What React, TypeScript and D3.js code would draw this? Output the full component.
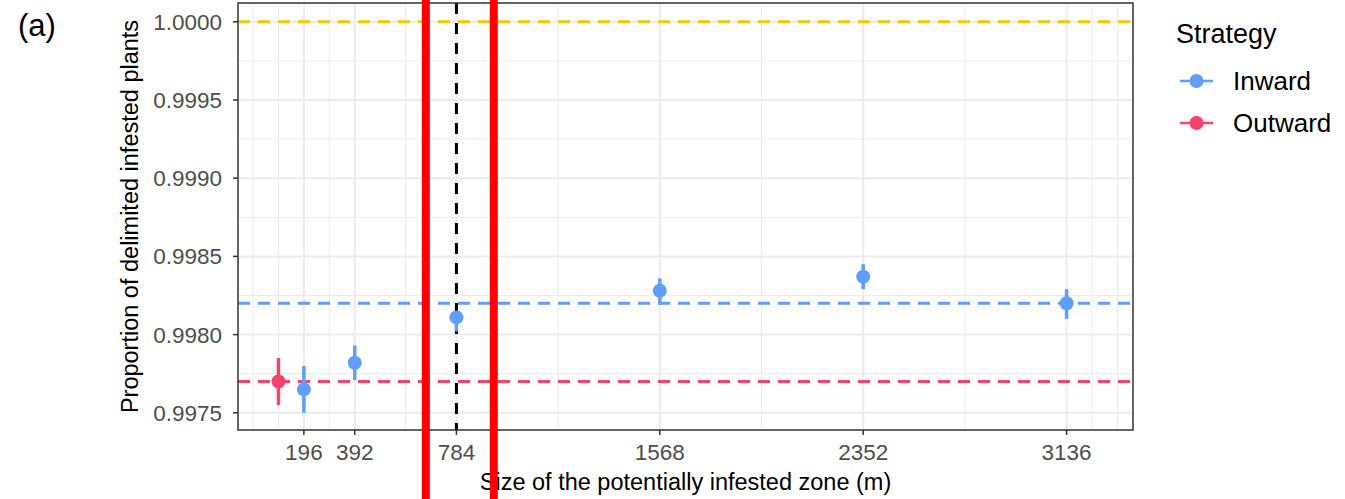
import * as d3 from "d3";

// data
const strategies = ["Inward", "Outward"];
const strategyColors = ["#619CFF", "#F5436E"];

const inwardSize = [196, 392, 784, 1568, 2352, 3136];
const inwardMean = [0.99765, 0.99782, 0.99811, 0.99828, 0.99837, 0.9982];
const inwardLow = [0.9975, 0.99771, 0.99802, 0.99819, 0.99829, 0.9981];
const inwardHigh = [0.9978, 0.99793, 0.99815, 0.99836, 0.99845, 0.99829];

const outwardSize = [98];
const outwardMean = [0.9977];
const outwardLow = [0.99755];
const outwardHigh = [0.99785];

const xTicks = [196, 392, 784, 1568, 2352, 3136];
const xMinor = [0, 98, 294, 588, 1176, 1960, 2744, 3234, 3332];
const yTicks = [0.9975, 0.998, 0.9985, 0.999, 0.9995, 1.0];
const yMinor = [0.99775, 0.99825, 0.99875, 0.99925, 0.99975];

const perfectLine = 1.0;
const meanLines = [0.9982, 0.9977]; // Inward, Outward
const chosenSize = 784;
const highlightSizes = [666, 928];

const W = 1345;
const H = 499;
const panel = { left: 238, right: 1133, top: 3, bottom: 430 };
const font = "'Liberation Sans', Arial, sans-serif";

export default function App() {
  const x = d3.scaleLinear().domain([-58, 3392]).range([panel.left, panel.right]);
  const y = d3.scaleLinear().domain([0.99739, 1.00012]).range([panel.bottom, panel.top]);

  const series = [
    { name: strategies[0], color: strategyColors[0], size: inwardSize, mean: inwardMean, lo: inwardLow, hi: inwardHigh },
    { name: strategies[1], color: strategyColors[1], size: outwardSize, mean: outwardMean, lo: outwardLow, hi: outwardHigh },
  ];

  const fmt = d3.format(".4f");

  return (
    <div style={{ position: "fixed", left: 0, top: 0 }}>
      <svg width={W} height={H} style={{ display: "block", background: "#fff" }} fontFamily={font}>
        <text x={18} y={36} fontSize={31} fill="#000">(a)</text>

        {/* grid */}
        <g>
          {xMinor.map((d) => (
            <line key={"xm" + d} x1={x(d)} x2={x(d)} y1={panel.top} y2={panel.bottom} stroke="#EBEBEB" strokeWidth={1} />
          ))}
          {yMinor.map((d) => (
            <line key={"ym" + d} y1={y(d)} y2={y(d)} x1={panel.left} x2={panel.right} stroke="#EBEBEB" strokeWidth={1} />
          ))}
          {xTicks.map((d) => (
            <line key={"xg" + d} x1={x(d)} x2={x(d)} y1={panel.top} y2={panel.bottom} stroke="#EBEBEB" strokeWidth={2} />
          ))}
          {yTicks.map((d) => (
            <line key={"yg" + d} y1={y(d)} y2={y(d)} x1={panel.left} x2={panel.right} stroke="#EBEBEB" strokeWidth={2} />
          ))}
        </g>

        {/* reference lines */}
        <line x1={panel.left} x2={panel.right} y1={y(perfectLine)} y2={y(perfectLine)} stroke="#F5C800" strokeWidth={3} strokeDasharray="12,8" />
        {meanLines.map((d, i) => (
          <line key={"ml" + i} x1={panel.left} x2={panel.right} y1={y(d)} y2={y(d)} stroke={strategyColors[i]} strokeWidth={3} strokeDasharray="12,8" />
        ))}
        <line x1={x(chosenSize)} x2={x(chosenSize)} y1={panel.top} y2={panel.bottom} stroke="#000" strokeWidth={3} strokeDasharray="11,9" />

        {/* points + error bars */}
        {series.map((s) => (
          <g key={s.name}>
            {s.size.map((d, i) => (
              <g key={d}>
                <line x1={x(d)} x2={x(d)} y1={y(s.lo[i])} y2={y(s.hi[i])} stroke={s.color} strokeWidth={3.5} />
                <circle cx={x(d)} cy={y(s.mean[i])} r={7} fill={s.color} />
              </g>
            ))}
          </g>
        ))}

        {/* panel border */}
        <rect x={panel.left} y={panel.top} width={panel.right - panel.left} height={panel.bottom - panel.top} fill="none" stroke="#333" strokeWidth={1.5} />

        {/* y axis */}
        <g>
          {yTicks.map((d) => (
            <g key={"yt" + d}>
              <line x1={panel.left - 5} x2={panel.left} y1={y(d)} y2={y(d)} stroke="#333" strokeWidth={1.5} />
              <text x={panel.left - 16} y={y(d)} dy="0.36em" textAnchor="end" fontSize={22.5} fill="#4D4D4D">{fmt(d)}</text>
            </g>
          ))}
        </g>
        {/* x axis */}
        <g>
          {xTicks.map((d) => (
            <g key={"xt" + d}>
              <line x1={x(d)} x2={x(d)} y1={panel.bottom} y2={panel.bottom + 5} stroke="#333" strokeWidth={1.5} />
              <text x={x(d)} y={panel.bottom + 30} textAnchor="middle" fontSize={22.5} fill="#4D4D4D">{d}</text>
            </g>
          ))}
        </g>

        <text x={(panel.left + panel.right) / 2} y={490} textAnchor="middle" fontSize={23.5} fill="#000">
          Size of the potentially infested zone (m)
        </text>
        <text transform={`translate(138, ${(panel.top + panel.bottom) / 2}) rotate(-90)`} textAnchor="middle" fontSize={23.5} fill="#000">
          Proportion of delimited infested plants
        </text>

        {/* legend */}
        <g>
          <text x={1176} y={43} fontSize={27} fill="#000">Strategy</text>
          {strategies.map((s, i) => (
            <g key={s} transform={`translate(0, ${81 + i * 42})`}>
              <line x1={1180} x2={1213} y1={0} y2={0} stroke={strategyColors[i]} strokeWidth={2.5} />
              <circle cx={1196.5} cy={0} r={7} fill={strategyColors[i]} />
              <text x={1233} y={0} dy="0.35em" fontSize={26} fill="#000">{s}</text>
            </g>
          ))}
        </g>

        {/* red highlight bars drawn over the figure */}
        {highlightSizes.map((d) => (
          <line key={"hl" + d} x1={x(d)} x2={x(d)} y1={0} y2={H} stroke="#FF0000" strokeWidth={8} />
        ))}
      </svg>
    </div>
  );
}
